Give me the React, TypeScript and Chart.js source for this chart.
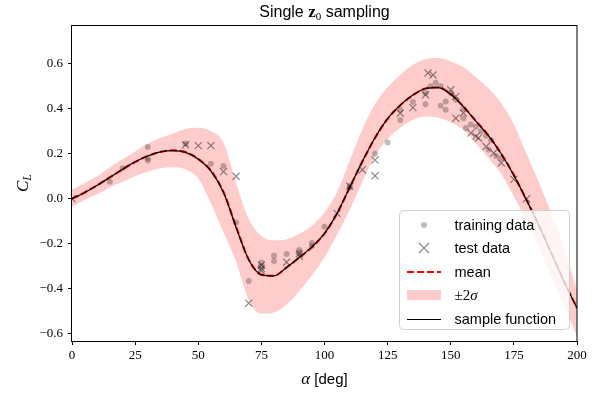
import React, { useEffect, useRef } from "react";
import { Chart, registerables } from "chart.js";

Chart.register(...registerables);

// ---- data ----
const alphaGrid = [0, 5, 10, 15, 20, 25, 30, 35, 40, 45, 50, 55, 60, 65, 70, 75, 80, 85, 90, 95, 100, 105, 110, 115, 120, 125, 130, 135, 140, 145, 150, 155, 160, 165, 170, 175, 180, 185, 190, 195, 200];
const meanCL = [0.0, 0.028, 0.06, 0.095, 0.13, 0.163, 0.19, 0.208, 0.215, 0.207, 0.177, 0.125, 0.03, -0.125, -0.27, -0.337, -0.342, -0.305, -0.262, -0.215, -0.155, -0.065, 0.05, 0.165, 0.27, 0.355, 0.415, 0.46, 0.49, 0.495, 0.465, 0.41, 0.345, 0.28, 0.2, 0.105, -0.005, -0.12, -0.245, -0.37, -0.485];
const sampleCL = [0.0, 0.027, 0.06, 0.095, 0.131, 0.164, 0.19, 0.208, 0.214, 0.206, 0.176, 0.124, 0.028, -0.127, -0.271, -0.338, -0.343, -0.305, -0.261, -0.214, -0.154, -0.064, 0.051, 0.166, 0.271, 0.356, 0.416, 0.461, 0.49, 0.494, 0.464, 0.409, 0.344, 0.279, 0.199, 0.104, -0.006, -0.121, -0.246, -0.371, -0.486];
const upperCL = [0.04, 0.07, 0.1, 0.14, 0.175, 0.21, 0.245, 0.27, 0.29, 0.31, 0.315, 0.3, 0.25, 0.07, -0.09, -0.165, -0.185, -0.18, -0.155, -0.12, -0.06, 0.03, 0.17, 0.31, 0.42, 0.495, 0.55, 0.595, 0.62, 0.625, 0.61, 0.585, 0.54, 0.49, 0.425, 0.33, 0.2, 0.07, -0.07, -0.22, -0.41];
const lowerCL = [-0.035, -0.005, 0.02, 0.05, 0.075, 0.1, 0.12, 0.135, 0.14, 0.13, 0.09, -0.02, -0.15, -0.28, -0.45, -0.51, -0.505, -0.47, -0.41, -0.34, -0.26, -0.16, -0.05, 0.075, 0.19, 0.265, 0.315, 0.35, 0.365, 0.36, 0.34, 0.305, 0.245, 0.18, 0.11, 0.01, -0.1, -0.22, -0.35, -0.48, -0.61];

const trainAlpha = [15, 20, 30, 30, 30, 45, 55, 60, 65, 70, 75, 75, 80, 80, 85, 90, 90, 95, 95, 100, 110, 110, 120, 125, 130, 130, 135, 140, 140, 142, 144, 146, 146, 148, 148, 150, 152, 155, 155, 156, 158, 160, 162, 164, 165, 166, 168, 170];
const trainCL = [0.075, 0.135, 0.23, 0.18, 0.17, 0.245, 0.155, 0.145, -0.105, -0.365, -0.283, -0.3, -0.253, -0.277, -0.246, -0.228, -0.24, -0.197, -0.21, -0.124, 0.058, 0.05, 0.2, 0.25, 0.35, 0.395, 0.43, 0.42, 0.47, 0.5, 0.515, 0.5, 0.413, 0.396, 0.432, 0.47, 0.44, 0.358, 0.4, 0.314, 0.33, 0.32, 0.3, 0.28, 0.218, 0.26, 0.19, 0.18];

const testAlpha = [0, 45, 50, 55, 60, 65, 70, 75, 75, 75, 85, 90, 90, 105, 110, 115, 120, 120, 130, 135, 140, 141, 143, 150, 152, 152, 155, 158, 160, 161, 164, 167, 170, 175, 180];
const testCL = [0.0, 0.24, 0.236, 0.236, 0.121, 0.1, -0.464, -0.295, -0.31, -0.32, -0.282, -0.256, -0.245, -0.065, 0.056, 0.129, 0.172, 0.102, 0.38, 0.405, 0.462, 0.559, 0.55, 0.484, 0.455, 0.358, 0.381, 0.292, 0.277, 0.27, 0.232, 0.203, 0.159, 0.086, 0.0];

const xTicks = [0, 25, 50, 75, 100, 125, 150, 175, 200];
const yTicks = [-0.6, -0.4, -0.2, 0.0, 0.2, 0.4, 0.6];

const SERIF = '"Liberation Serif", "DejaVu Serif", serif';
const SANS = '"Liberation Sans", "DejaVu Sans", sans-serif';

type Run = { t: string; f: string; dy?: number };

function runsWidth(ctx: CanvasRenderingContext2D, runs: Run[]) {
  let w = 0;
  for (const r of runs) {
    ctx.font = r.f;
    w += ctx.measureText(r.t).width;
  }
  return w;
}

function drawRuns(ctx: CanvasRenderingContext2D, runs: Run[], x: number, y: number, align: "left" | "center") {
  let cx = align === "center" ? x - runsWidth(ctx, runs) / 2 : x;
  ctx.textAlign = "left";
  ctx.textBaseline = "alphabetic";
  for (const r of runs) {
    ctx.font = r.f;
    ctx.fillText(r.t, cx, y + (r.dy || 0));
    cx += ctx.measureText(r.t).width;
  }
}

const decorPlugin = {
  id: "decor",
  afterDraw(chart: any) {
    const ctx: CanvasRenderingContext2D = chart.ctx;
    const ca = chart.chartArea;
    ctx.save();
    // frame
    ctx.strokeStyle = "#000";
    ctx.lineWidth = 1;
    ctx.strokeRect(Math.round(ca.left) - 0.5, Math.round(ca.top) + 0.5, Math.round(ca.right - ca.left) + 0.5, Math.round(ca.bottom - ca.top));
    ctx.fillStyle = "#000";
    // title
    drawRuns(
      ctx,
      [
        { t: "Single ", f: `16px ${SANS}` },
        { t: "z", f: `bold 17px ${SERIF}` },
        { t: "0", f: `11px ${SERIF}`, dy: 3 },
        { t: " sampling", f: `16px ${SANS}` },
      ],
      (ca.left + ca.right) / 2,
      17,
      "center"
    );
    // x label
    drawRuns(
      ctx,
      [
        { t: "α", f: `italic 17px ${SERIF}` },
        { t: " [deg]", f: `15px ${SANS}` },
      ],
      (ca.left + ca.right) / 2,
      384,
      "center"
    );
    // y label
    ctx.save();
    ctx.translate(28, (ca.top + ca.bottom) / 2);
    ctx.rotate(-Math.PI / 2);
    drawRuns(
      ctx,
      [
        { t: "C", f: `italic 17px ${SERIF}` },
        { t: "L", f: `italic 12px ${SERIF}`, dy: 3 },
      ],
      0,
      0,
      "center"
    );
    ctx.restore();

    // legend
    const bx = Math.round(ca.right - 178) + 0.5;
    const by = Math.round(ca.bottom - 131) + 0.5;
    const bw = 170;
    const bh = 119;
    const r = 4;
    ctx.beginPath();
    ctx.moveTo(bx + r, by);
    ctx.lineTo(bx + bw - r, by);
    ctx.quadraticCurveTo(bx + bw, by, bx + bw, by + r);
    ctx.lineTo(bx + bw, by + bh - r);
    ctx.quadraticCurveTo(bx + bw, by + bh, bx + bw - r, by + bh);
    ctx.lineTo(bx + r, by + bh);
    ctx.quadraticCurveTo(bx, by + bh, bx, by + bh - r);
    ctx.lineTo(bx, by + r);
    ctx.quadraticCurveTo(bx, by, bx + r, by);
    ctx.closePath();
    ctx.fillStyle = "rgba(255,255,255,0.8)";
    ctx.fill();
    ctx.strokeStyle = "rgba(204,204,204,0.9)";
    ctx.lineWidth = 1;
    ctx.stroke();

    const hx0 = Math.round(bx + 7);
    const hx1 = Math.round(bx + 41);
    const hc = (hx0 + hx1) / 2;
    const tx = bx + 55;
    const rows = [Math.round(by + 14), Math.round(by + 37), Math.round(by + 61), Math.round(by + 84), Math.round(by + 108)];
    // training
    ctx.fillStyle = "rgba(0,0,0,0.25)";
    ctx.beginPath();
    ctx.arc(hc, rows[0], 3, 0, Math.PI * 2);
    ctx.fill();
    // test
    ctx.strokeStyle = "rgba(0,0,0,0.45)";
    ctx.lineWidth = 1.2;
    ctx.beginPath();
    ctx.moveTo(hc - 5, rows[1] - 5);
    ctx.lineTo(hc + 5, rows[1] + 5);
    ctx.moveTo(hc + 5, rows[1] - 5);
    ctx.lineTo(hc - 5, rows[1] + 5);
    ctx.stroke();
    // mean
    ctx.strokeStyle = "#ff0000";
    ctx.lineWidth = 2;
    ctx.setLineDash([7, 3]);
    ctx.beginPath();
    ctx.moveTo(hx0, rows[2]);
    ctx.lineTo(hx1, rows[2]);
    ctx.stroke();
    ctx.setLineDash([]);
    // band
    ctx.fillStyle = "rgba(255,0,0,0.2)";
    ctx.fillRect(hx0, rows[3] - 5, hx1 - hx0, 10);
    // sample
    ctx.strokeStyle = "#000";
    ctx.lineWidth = 1;
    ctx.beginPath();
    ctx.moveTo(hx0, rows[4] + 0.5);
    ctx.lineTo(hx1, rows[4] + 0.5);
    ctx.stroke();

    ctx.fillStyle = "#000";
    const lf = `14.5px ${SANS}`;
    drawRuns(ctx, [{ t: "training data", f: lf }], tx, rows[0] + 5, "left");
    drawRuns(ctx, [{ t: "test data", f: lf }], tx, rows[1] + 5, "left");
    drawRuns(ctx, [{ t: "mean", f: lf }], tx, rows[2] + 5, "left");
    drawRuns(
      ctx,
      [
        { t: "±2", f: `15px ${SERIF}` },
        { t: "σ", f: `italic 15px ${SERIF}` },
      ],
      tx,
      rows[3] + 5,
      "left"
    );
    drawRuns(ctx, [{ t: "sample function", f: lf }], tx, rows[4] + 5, "left");
    ctx.restore();
  },
};

export default function App() {
  const ref = useRef<HTMLCanvasElement | null>(null);
  useEffect(() => {
    if (!ref.current) return;
    const line = (ys: number[]) => alphaGrid.map((a, i) => ({ x: a, y: ys[i] }));
    const pts = (xs: number[], ys: number[]) => xs.map((a, i) => ({ x: a, y: ys[i] }));
    const chart = new Chart(ref.current, {
      type: "line",
      data: {
        datasets: [
          {
            label: "test data",
            data: pts(testAlpha, testCL),
            showLine: false,
            pointStyle: "crossRot",
            pointRadius: 5,
            pointBorderColor: "rgba(0,0,0,0.45)",
            pointBorderWidth: 1.2,
            pointBackgroundColor: "rgba(0,0,0,0)",
          } as any,
          {
            label: "training data",
            data: pts(trainAlpha, trainCL),
            showLine: false,
            pointStyle: "circle",
            pointRadius: 3,
            pointBorderWidth: 0,
            pointBackgroundColor: "rgba(0,0,0,0.25)",
          } as any,
          {
            label: "sample function",
            data: line(sampleCL),
            borderColor: "#000",
            borderWidth: 1.2,
            pointRadius: 0,
            cubicInterpolationMode: "monotone",
            fill: false,
          } as any,
          {
            label: "mean",
            data: line(meanCL),
            borderColor: "#ff0000",
            borderWidth: 2.2,
            borderDash: [7, 3],
            pointRadius: 0,
            cubicInterpolationMode: "monotone",
            fill: false,
          } as any,
          {
            label: "upper",
            data: line(upperCL),
            borderWidth: 0,
            borderColor: "rgba(0,0,0,0)",
            pointRadius: 0,
            cubicInterpolationMode: "monotone",
            fill: { target: 5 },
            backgroundColor: "rgba(255,0,0,0.2)",
          } as any,
          {
            label: "lower",
            data: line(lowerCL),
            borderWidth: 0,
            borderColor: "rgba(0,0,0,0)",
            pointRadius: 0,
            cubicInterpolationMode: "monotone",
            fill: false,
          } as any,
        ],
      },
      options: {
        animation: false,
        responsive: true,
        maintainAspectRatio: false,
        layout: { padding: { top: 25, right: 21, left: 0, bottom: 0 } },
        plugins: {
          legend: { display: false },
          tooltip: { enabled: false },
          title: { display: false },
        },
        scales: {
          x: {
            type: "linear",
            min: 0,
            max: 200,
            afterFit: (s: any) => {
              s.height = 52;
            },
            afterBuildTicks: (s: any) => {
              s.ticks = xTicks.map((v) => ({ value: v }));
            },
            ticks: {
              color: "#000",
              font: { family: SERIF, size: 13 },
              padding: 3,
              maxRotation: 0,
              autoSkip: false,
              callback: (v: any) => String(v),
            },
            grid: { drawOnChartArea: false, drawTicks: true, tickLength: 4, color: "#000" },
            border: { display: false },
          },
          y: {
            type: "linear",
            min: -0.632,
            max: 0.772,
            afterFit: (s: any) => {
              s.width = 72;
            },
            afterBuildTicks: (s: any) => {
              s.ticks = yTicks.map((v) => ({ value: v }));
            },
            ticks: {
              color: "#000",
              font: { family: SERIF, size: 13 },
              padding: 5,
              autoSkip: false,
              callback: (v: any) => Number(v).toFixed(1).replace("-", "\u2212"),
            },
            grid: { drawOnChartArea: false, drawTicks: true, tickLength: 4, color: "#000" },
            border: { display: false },
          },
        },
      },
      plugins: [decorPlugin],
    });
    return () => chart.destroy();
  }, []);
  return (
    <div style={{ position: "absolute", left: 0, top: 0, width: 598, height: 393, background: "#fff" }}>
      <canvas ref={ref} />
    </div>
  );
}
